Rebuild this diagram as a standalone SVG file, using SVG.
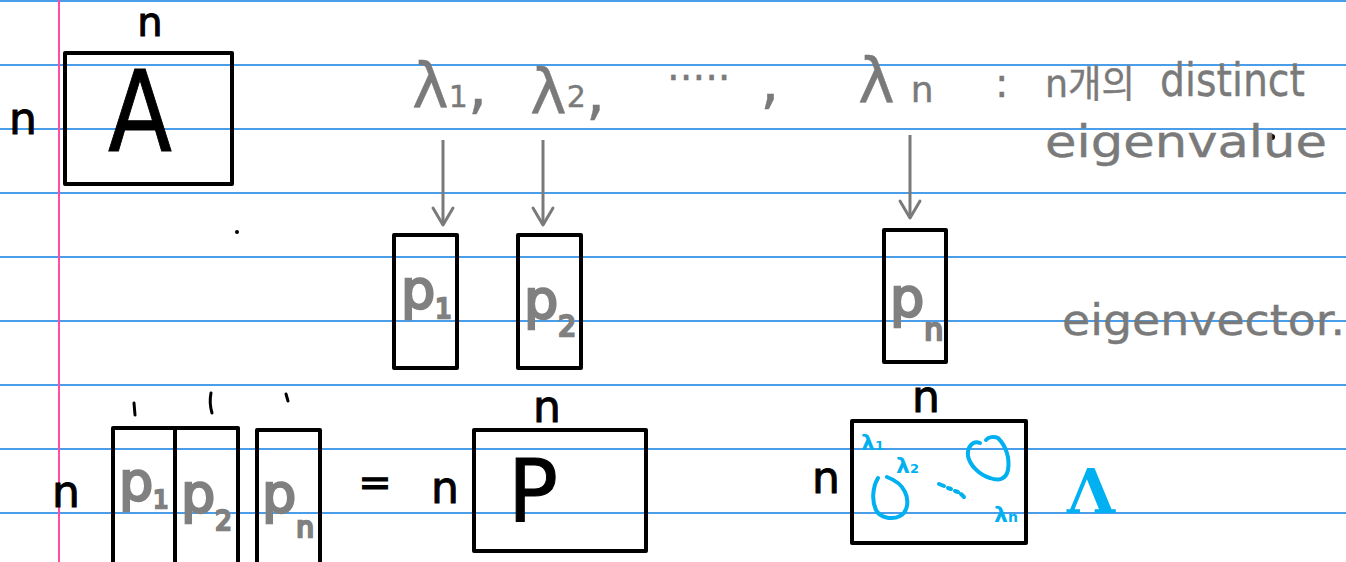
<svg xmlns="http://www.w3.org/2000/svg" width="1346" height="562" viewBox="0 0 1346 562">
<style>
.rule{stroke:#4a9de8;stroke-width:2}
.box{fill:none;stroke:#000;stroke-width:4;stroke-linejoin:round}
.ink{font-family:"DejaVu Sans",sans-serif;fill:#000;stroke:#000;stroke-width:1}
.gray{font-family:"DejaVu Sans","Noto Sans CJK KR",sans-serif;fill:#7a7a7a;stroke:#7a7a7a;stroke-width:0.4}
.pl{font-family:"DejaVu Sans",sans-serif;fill:#808080;stroke:#808080;stroke-width:2.5;font-size:54px}
.blue{font-family:"DejaVu Sans",sans-serif;font-weight:bold;fill:#00b0f0}
.bstroke{fill:none;stroke:#00b0f0;stroke-width:4;stroke-linecap:round;stroke-linejoin:round}
.arrow{stroke:#7a7a7a;stroke-width:3;fill:none;marker-end:url(#ah)}
</style>
<defs>
<marker id="ah" viewBox="-20 -14 24 28" refX="0" refY="0" markerWidth="24" markerHeight="28" markerUnits="userSpaceOnUse" orient="auto">
<path d="M-17,-10 L0,0 L-17,10" fill="none" stroke="#7a7a7a" stroke-width="3" stroke-linecap="round" stroke-linejoin="round"/>
</marker>
</defs>
<rect width="1346" height="562" fill="#fff"/>
<g id="paper">
<line class="rule" x1="0" y1="1" x2="1346" y2="1"/>
<line class="rule" x1="0" y1="65" x2="1346" y2="65"/>
<line class="rule" x1="0" y1="129" x2="1346" y2="129"/>
<line class="rule" x1="0" y1="193" x2="1346" y2="193"/>
<line class="rule" x1="0" y1="257" x2="1346" y2="257"/>
<line class="rule" x1="0" y1="321" x2="1346" y2="321"/>
<line class="rule" x1="0" y1="385" x2="1346" y2="385"/>
<line class="rule" x1="0" y1="449" x2="1346" y2="449"/>
<line class="rule" x1="0" y1="513" x2="1346" y2="513"/>
<line x1="59" y1="0" x2="59" y2="562" stroke="#ff4da6" stroke-width="2"/>
<circle cx="237" cy="232" r="2" fill="#000"/>
<circle cx="1272" cy="137" r="3" fill="#000"/>
</g>
<g id="matrix-A">
<rect class="box" x="65" y="53" width="167" height="131"/>
<text class="ink" x="150" y="36" font-size="40" text-anchor="middle">n</text>
<text class="ink" x="23" y="134" font-size="44" text-anchor="middle">n</text>
<text class="ink" x="108" y="151" font-size="112" stroke-width="4" textLength="64" lengthAdjust="spacingAndGlyphs">A</text>
</g>
<g id="eigenvalues">
<text class="gray" x="412" y="107" font-size="62">λ<tspan font-size="30">1</tspan>,</text>
<text class="gray" x="530" y="113" font-size="62">λ<tspan font-size="30" dy="-6">2</tspan><tspan dy="6">,</tspan></text>
<text class="gray" x="667" y="92" font-size="40">·····</text>
<text class="gray" x="760" y="102" font-size="62">,</text>
<text class="gray" x="858" y="102" font-size="62">λ<tspan font-size="36" dx="16">n</tspan></text>
<text class="gray" x="995" y="97" font-size="40">:</text>
<text class="gray" x="1045" y="97" font-size="38" textLength="90" lengthAdjust="spacingAndGlyphs">n개의</text>
<text class="gray" x="1160" y="96" font-size="46" textLength="145" lengthAdjust="spacingAndGlyphs">distinct</text>
<text class="gray" x="1045" y="157" font-size="44" textLength="282" lengthAdjust="spacingAndGlyphs">eigenvalue</text>
</g>
<g id="connectors">
<line class="arrow" x1="443" y1="140" x2="443" y2="225"/>
<line class="arrow" x1="543" y1="140" x2="543" y2="225"/>
<line class="arrow" x1="910" y1="135" x2="910" y2="218"/>
</g>
<g id="vec-p1">
<rect class="box" x="394" y="235" width="63" height="133"/>
<text class="pl" x="401" y="308">p<tspan font-size="26" dy="10">1</tspan></text>
</g>
<g id="vec-p2">
<rect class="box" x="518" y="235" width="63" height="133"/>
<text class="pl" x="524" y="318">p<tspan font-size="28" dy="18">2</tspan></text>
</g>
<g id="vec-pn">
<rect class="box" x="884" y="230" width="62" height="132"/>
<text class="pl" x="890" y="316">p<tspan font-size="30" dy="24">n</tspan></text>
</g>
<text id="eigenvector-label" class="gray" x="1062" y="335" font-size="42" textLength="283" lengthAdjust="spacingAndGlyphs">eigenvector.</text>
<g id="columns">
<text class="ink" x="66" y="507" font-size="44" text-anchor="middle">n</text>
<line x1="134" y1="403" x2="135" y2="415" stroke="#000" stroke-width="3" stroke-linecap="round"/>
<path d="M211,393 Q209,403 212,413" fill="none" stroke="#000" stroke-width="3" stroke-linecap="round"/>
<line x1="286" y1="394" x2="288" y2="401" stroke="#000" stroke-width="3" stroke-linecap="round"/>
<rect class="box" x="113" y="428" width="62" height="140"/>
<rect class="box" x="175" y="428" width="63" height="140"/>
<rect class="box" x="257" y="430" width="63" height="140"/>
<text class="pl" x="119" y="500">p<tspan font-size="24" dy="8">1</tspan></text>
<text class="pl" x="181" y="512">p<tspan font-size="26" dy="18">2</tspan></text>
<text class="pl" x="262" y="512">p<tspan font-size="28" dy="25">n</tspan></text>
<text class="ink" x="375" y="496" font-size="40" text-anchor="middle">=</text>
</g>
<g id="matrix-P">
<rect class="box" x="474" y="430" width="172" height="121"/>
<text class="ink" x="547" y="422" font-size="44" text-anchor="middle">n</text>
<text class="ink" x="445" y="503" font-size="44" text-anchor="middle">n</text>
<text class="ink" x="508" y="522" font-size="88" stroke-width="5" textLength="50" lengthAdjust="spacingAndGlyphs">P</text>
</g>
<g id="matrix-Lambda">
<rect class="box" x="852" y="421" width="174" height="122"/>
<text class="ink" x="926" y="412" font-size="44" text-anchor="middle">n</text>
<text class="ink" x="826" y="493" font-size="44" text-anchor="middle">n</text>
<text class="blue" x="861" y="450" font-size="22">λ<tspan font-size="13">1</tspan></text>
<text class="blue" x="896" y="473" font-size="22">λ<tspan font-size="13">2</tspan></text>
<text class="blue" x="994" y="522" font-size="22">λ<tspan font-size="14">n</tspan></text>
<path class="bstroke" d="M878,478 C872,488 872,502 876,510 C880,518 892,520 900,516 C908,512 909,500 905,492 C902,485 895,480 887,477"/>
<path class="bstroke" d="M939,484 L944,486 M948,488 L951,489 M955,491 L958,492 M961,494 L964,497"/>
<path class="bstroke" d="M980,443 C972,440 967,448 968,456 C970,466 980,475 990,478 C998,481 1006,480 1008,470 C1010,458 1006,446 998,438 C994,436 988,437 986,440"/>
<text x="1091" y="513" font-family="'DejaVu Serif',serif" font-weight="bold" font-size="62" fill="#00b0f0" text-anchor="middle">Λ</text>
</g>
</svg>
